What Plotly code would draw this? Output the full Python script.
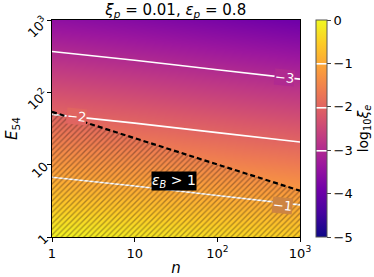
import plotly.graph_objects as go

# log10 n grid and log10 E54 grid (decades)
log_n = [0, 1, 2, 3]
log_E = [0, 1, 2, 3]
# log10 xi_e read at decade points (rows: E54 = 1, 10, 1e2, 1e3; cols: n = 1, 10, 1e2, 1e3)
log_xi_e = [
    [-0.05, -0.19, -0.34, -0.49],
    [-1.20, -1.34, -1.49, -1.64],
    [-2.35, -2.49, -2.64, -2.79],
    [-3.50, -3.64, -3.79, -3.94],
]
# epsilon_B = 1 boundary (E54 values at n = 1 and n = 1e3)
boundary_logn = [0, 3]
boundary_logE = [1.73, 0.64]

# contour levels and where their inline labels sit
contour_levels = [-3, -2, -1]
label_text = ["\u22123", "\u22122", "\u22121"]
label_logn = [2.81, 0.30, 2.79]
label_logE = [2.21, 1.66, 0.44]
label_bg = ["rgb(176,42,144)", "rgb(224,101,97)", "rgb(205,132,66)"]

tick_vals = [0, 1, 2, 3]
tick_text = ["1", "10", "10<sup>2</sup>", "10<sup>3</sup>"]
cb_vals = [0, -1, -2, -3, -4, -5]
cb_text = ["0", "\u22121", "\u22122", "\u22123", "\u22124", "\u22125"]

FONT = "DejaVu Sans"

fig = go.Figure()
fig.add_trace(go.Contour(
    x=log_n, y=log_E, z=log_xi_e,
    colorscale="Plasma", zmin=-5, zmax=0,
    contours=dict(coloring="heatmap", start=min(contour_levels),
                  end=max(contour_levels), size=1, showlabels=False),
    line=dict(color="white", width=1.6),
    colorbar=dict(
        x=1.065, xanchor="left", xpad=0, y=0.5, yanchor="middle",
        len=1, lenmode="fraction", thickness=11, ypad=0,
        outlinecolor="#555", outlinewidth=1,
        tickvals=cb_vals, ticktext=cb_text, ticks="outside", ticklen=4,
        tickfont=dict(size=13, family=FONT, color="black"),
        title=dict(text="log<sub>10</sub><i>ξ</i><sub><i>e</i></sub>", side="right",
                   font=dict(size=14, family=FONT, color="black")),
    ),
    showscale=True,
    hoverinfo="skip",
))

fig.add_trace(go.Scatter(
    x=boundary_logn, y=boundary_logE, mode="lines",
    line=dict(color="black", width=2.2, dash="5px,3px"),
    fill="tozeroy", fillcolor="rgba(0,0,0,0)",
    fillpattern=dict(shape="/", fgcolor="rgba(35,15,10,0.7)", bgcolor="rgba(0,0,0,0)",
                     size=4, solidity=0.35),
    showlegend=False, hoverinfo="skip",
))

for t, lx, ly, bg in zip(label_text, label_logn, label_logE, label_bg):
    fig.add_annotation(x=lx, y=ly, xref="x", yref="y", text=t, showarrow=False,
                       font=dict(color="white", size=13, family=FONT),
                       bgcolor=bg, borderpad=0, textangle=6)

fig.add_annotation(
    x=1.48, y=0.77, xref="x", yref="y",
    text="<i>ε</i><sub><i>B</i></sub> > 1", showarrow=False,
    font=dict(color="white", size=14, family=FONT),
    bgcolor="black", borderpad=0,
)

fig.update_layout(
    width=374, height=277,
    margin=dict(l=52, r=74, t=20, b=40, autoexpand=False),
    paper_bgcolor="white", plot_bgcolor="white",
    font=dict(family=FONT, color="black"),
    title=dict(text="<i>ξ</i><sub><i>p</i></sub> = 0.01, <i>ε</i><sub><i>p</i></sub> = 0.8",
               x=0.47, xanchor="center", y=0.965, yanchor="middle",
               font=dict(size=15, family=FONT, color="black")),
    showlegend=False,
)
fig.update_xaxes(range=[0, 3], tickvals=tick_vals, ticktext=tick_text,
                 ticks="outside", ticklen=4, tickcolor="black",
                 showline=True, linecolor="black", linewidth=1, mirror=True,
                 showgrid=False, zeroline=False, automargin=False,
                 tickfont=dict(size=13, family=FONT),
                 title=dict(text="<i>n</i>", font=dict(size=15, family=FONT), standoff=2))
fig.update_yaxes(range=[0, 3], tickvals=tick_vals, ticktext=tick_text,
                 ticks="outside", ticklen=4, tickcolor="black", tickangle=-45,
                 showline=True, linecolor="black", linewidth=1, mirror=True,
                 showgrid=False, zeroline=False, automargin=False,
                 tickfont=dict(size=13, family=FONT),
                 title=dict(text="<i>E</i><sub>54</sub>", font=dict(size=15, family=FONT), standoff=2))

fig.write_html("out.html", config={"displayModeBar": False},
               post_script="document.body.style.margin='0';")
